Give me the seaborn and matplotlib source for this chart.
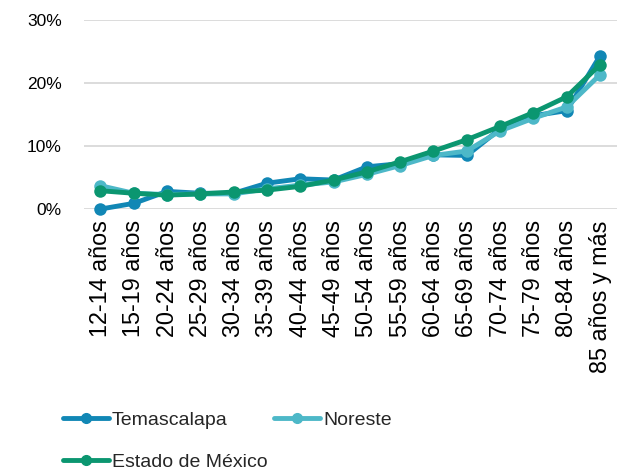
import numpy as np
import pandas as pd
import matplotlib
matplotlib.use("Agg")
import matplotlib.pyplot as plt
import seaborn as sns
from matplotlib.lines import Line2D
from matplotlib.ticker import PercentFormatter

grupos = ["12-14 años", "15-19 años", "20-24 años", "25-29 años", "30-34 años",
          "35-39 años", "40-44 años", "45-49 años", "50-54 años", "55-59 años",
          "60-64 años", "65-69 años", "70-74 años", "75-79 años", "80-84 años",
          "85 años y más"]
temascalapa = [0.0, 0.9, 2.8, 2.5, 2.5, 4.1, 4.8, 4.6, 6.7, 7.2, 8.6, 8.5, 12.7, 14.8, 15.6, 24.3]
noreste = [3.7, 2.5, 2.3, 2.4, 2.4, 3.2, 3.8, 4.3, 5.5, 6.9, 8.5, 9.2, 12.4, 14.4, 16.2, 21.3]
estado = [2.9, 2.5, 2.2, 2.4, 2.7, 3.0, 3.6, 4.6, 5.9, 7.5, 9.2, 11.0, 13.1, 15.3, 17.8, 22.9]
series = ["Temascalapa", "Noreste", "Estado de México"]
colores = ["#1187B5", "#4DB8C8", "#0B9670"]

df = pd.DataFrame({
    "grupo": grupos * 3,
    "valor": temascalapa + noreste + estado,
    "serie": [series[0]] * 16 + [series[1]] * 16 + [series[2]] * 16,
})

sns.set_style("white")
plt.rcParams["font.family"] = ["Liberation Sans", "DejaVu Sans"]

fig = plt.figure(figsize=(6.21, 4.74), dpi=100)
ax = fig.add_axes([0.135, 0.559, 0.858, 0.399])

sns.lineplot(data=df, x="grupo", y="valor", hue="serie", palette=colores,
             marker="o", markersize=9, markeredgewidth=0, linewidth=3.5,
             sort=False, ax=ax, legend=False, clip_on=False)

ax.set_ylim(0, 30)
ax.set_xlim(-0.5, 15.5)
ax.set_yticks([0, 10, 20, 30])
ax.yaxis.set_major_formatter(PercentFormatter(decimals=0))
ax.grid(axis="y", color="#D9D9D9", linewidth=1.3)
ax.set_axisbelow(True)
for s in ax.spines.values():
    s.set_visible(False)
ax.set_xlabel("")
ax.set_ylabel("")
ax.tick_params(axis="both", length=0, colors="black")
ax.tick_params(axis="y", pad=16, labelsize=12.5)
ax.tick_params(axis="x", pad=8, labelsize=16.8)
plt.setp(ax.get_xticklabels(), rotation=90)

# column-major fill: Temascalapa, Noreste on row 1, Estado below
orden = [0, 2, 1]
handles = [Line2D([], [], color=colores[i], linewidth=3.5, marker="o", markersize=7) for i in orden]
fig.legend(handles, [series[i] for i in orden], loc="upper left",
           bbox_to_anchor=(0.0725, 0.169), ncol=2, frameon=False, fontsize=14,
           handlelength=2.4, handletextpad=0.15, columnspacing=0.3, labelspacing=1.26)

fig.savefig("out.png", dpi=100)
